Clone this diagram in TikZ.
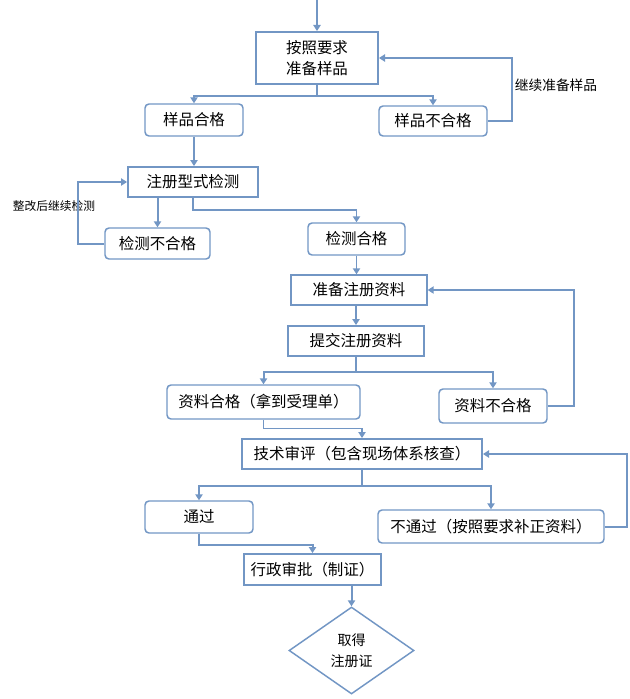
\documentclass[tikz,border=0pt]{standalone}
\usepackage{fontspec}
\setmainfont{Noto Sans CJK SC}
\usetikzlibrary{arrows.meta,shapes.geometric}
\definecolor{ln}{RGB}{114,150,196}
\begin{document}
\begin{tikzpicture}[x=0.75pt,y=-0.75pt,
  sz/.style 2 args={minimum width=#1*0.75pt,minimum height=#2*0.75pt},
  sq/.style={draw=ln,line width=1.5pt,inner sep=0pt,align=center,font=\fontsize{11.6}{15.75}\selectfont},
  sqthin/.style={sq,line width=1.1pt},
  rd/.style={sq,line width=1.1pt,rounded corners=3pt},
  thk/.style={draw=ln,line width=1.5pt},
  thn/.style={draw=ln,line width=1.1pt},
  arr/.style={-{Triangle[width=5.5pt,length=4.5pt]}},
  lblA/.style={font=\fontsize{10.3}{12}\selectfont,inner sep=0pt},
  lblB/.style={font=\fontsize{8.8}{11}\selectfont,inner sep=0pt}
]
\useasboundingbox (0,0) rectangle (629,699);

% nodes
\node[sq,sz={122}{52}] (b1) at (317,58) {按照要求\\准备样品};
\node[rd,sz={98}{32}] (ok1) at (194,120) {样品合格};
\node[rd,sz={108}{30}] (ng1) at (433,121) {样品不合格};
\node[sq,sz={130}{30}] (b2) at (193,182) {注册型式检测};
\node[rd,sz={105}{31}] (ng2) at (157.5,243.5) {检测不合格};
\node[rd,sz={97}{32}] (ok2) at (356.5,239) {检测合格};
\node[sqthin,sz={136}{30}] (b3) at (359,290) {准备注册资料};
\node[sq,sz={136}{30}] (b4) at (356,341) {提交注册资料};
\node[rd,sz={193}{34}] (ok3) at (263.5,402) {资料合格（拿到受理单）};
\node[rd,sz={108}{34}] (ng3) at (493,406) {资料不合格};
\node[sq,sz={240}{30}] (b5) at (362,454) {技术审评（包含现场体系核查）};
\node[rd,sz={108}{32}] (ok4) at (199,517) {通过};
\node[rd,sz={226}{33}] (ng4) at (491,526.5) {不通过（按照要求补正资料）};
\node[sq,sz={137}{31}] (b6) at (312.5,569.5) {行政审批（制证）};
\node[draw=ln,line width=1.1pt,shape=diamond,aspect=1.44,inner sep=0pt,sz={125}{87},align=center,font=\fontsize{10.5}{15.75}\selectfont] (d) at (351.5,650.5) {取得\\注册证};

\node[lblA] (l1) at (556,85) {继续准备样品};
\node[lblB] (l2) at (54,206) {整改后继续检测};

% connectors
\coordinate (start) at (317,0);
\draw[thk,arr] (start) -- (b1.north);

\draw[thk] (b1.south) -- ++(0,11) coordinate (j1);
\draw[thk,arr] (j1) -| (ok1.north);
\draw[thk,arr] (j1) -| (ng1.north);
\draw[thk,arr] (ng1.east) -- ++(24,0) |- (b1.east);

\draw[thn,arr] (ok1.south) -- (ok1.south |- b2.north);
\draw[thk,arr] (b2.south -| ng2.north) -- (ng2.north);
\draw[thn,arr] (b2.south) -- ++(0,12) -| (ok2.north);
\draw[thk,arr] (ng2.west) -- ++(-26,0) |- (b2.west);

\draw[thn,arr] (ok2.south) -- (ok2.south |- b3.north);
\draw[thn,arr] (b4.north |- b3.south) -- (b4.north);
\draw[thk,arr] (ng3.east) -- ++(26,0) |- (b3.east);

\draw[thk] (b4.south) -- ++(0,15) coordinate (j2);
\draw[thk,arr] (j2) -| (ok3.north);
\draw[thn,arr] (j2) -| (ng3.north);

\draw[thn,arr] (ok3.south) -- ++(0,9) -| (b5.north);

\draw[thk] (b5.south) -- ++(0,16) coordinate (j3);
\draw[thk,arr] (j3) -| (ok4.north);
\draw[thn,arr] (j3) -| (ng4.north);
\draw[thk,arr] (ng4.east) -- ++(22,0) |- (b5.east);

\draw[thk,arr] (ok4.south) -- ++(0,11) -| (b6.north);
\draw[thk,arr] (d.north |- b6.south) -- (d.north);
\end{tikzpicture}
\end{document}
